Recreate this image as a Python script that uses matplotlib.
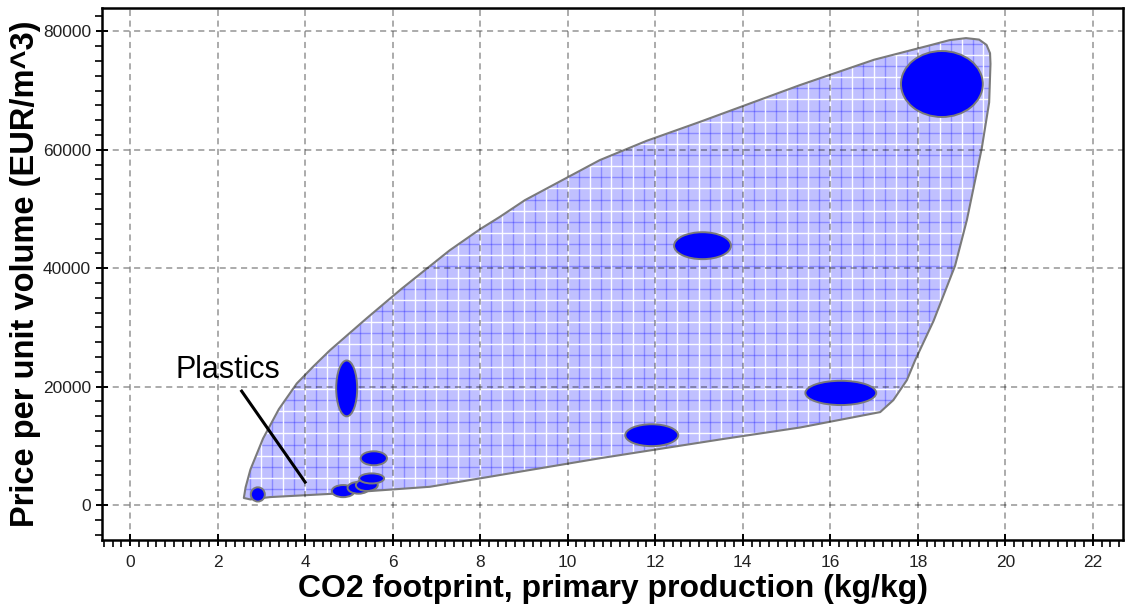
"""
Price per unit volume vs. CO2 footprint of primary production,
with the plastics family drawn as a hatched envelope around its members.
"""

import numpy as np
import matplotlib.pyplot as plt
from matplotlib.patches import Ellipse, Polygon
from matplotlib.collections import LineCollection
from matplotlib.ticker import MultipleLocator

plt.rcParams.update({
    'font.family': ['Liberation Sans', 'DejaVu Sans'],
    'font.size': 12.5,
    'xtick.labelsize': 12.5,
    'ytick.labelsize': 12.5,
})

# Material bubbles: CO2 footprint (kg/kg), price per volume (EUR/m^3), extents
bubble_x = [18.55, 13.08, 16.24, 11.92, 4.95, 5.57, 2.92, 4.87, 5.22, 5.41, 5.52]
bubble_y = [71100, 43800, 18940, 11800, 19700, 7900, 1800, 2360, 2920, 3380, 4500]
bubble_w = [1.87, 1.30, 1.62, 1.21, 0.48, 0.60, 0.32, 0.52, 0.50, 0.50, 0.57]
bubble_h = [11140, 4550, 4100, 3700, 9430, 2360, 2400, 2050, 2000, 2000, 1700]

# Family envelope outline (clockwise from the lower-left tip)
env_x = [2.60, 2.64, 2.75, 3.04, 3.40, 3.81, 4.20, 4.57, 5.40, 6.20, 7.30, 8.00,
         8.45, 9.02, 10.73, 11.80, 13.00, 15.30, 17.00, 18.26, 18.72, 19.10,
         19.40, 19.57, 19.65, 19.66, 19.63, 19.46, 19.12, 18.85, 18.36, 17.94,
         17.75, 17.44, 17.14, 15.31, 13.50, 10.73, 6.85, 4.60, 3.20, 2.75]
env_y = [1200, 3000, 6000, 11260, 16200, 20540, 23500, 26160, 31500, 36500, 43000, 46600,
         48670, 51480, 58240, 61500, 64650, 70900, 75200, 77600, 78500, 78850,
         78600, 77700, 76300, 74500, 68000, 60210, 48110, 40390, 31110, 24480,
         21100, 17720, 15700, 13100, 11100, 7900, 3090, 1900, 1350, 950]

label_text = 'Plastics'
label_pos = (2.24, 21400)
leader_x = [2.55, 4.00]
leader_y = [19240, 3880]

x_ticks = list(range(0, 23, 2))
y_ticks = [0, 20000, 40000, 60000, 80000]

FILL_COLOR = '#c0c0ff'
BUBBLE_COLOR = '#0000ff'
EDGE_GRAY = '#7a7a7a'


def hatch_lines(ax, clip_patch, xlim, ylim):
    """Criss-cross texture inside the envelope: white and blue lines alternating."""
    x0, x1 = xlim
    y0, y1 = ylim
    dy = 3760.0
    white, blue = [], []
    for x in np.arange(0, x1, 0.5):
        white.append([(x, y0), (x, y1)])
        blue.append([(x + 0.25, y0), (x + 0.25, y1)])
    for y in np.arange(40300 - 12 * dy, y1, dy):
        blue.append([(x0, y), (x1, y)])
        white.append([(x0, y + dy / 2), (x1, y + dy / 2)])
    for segs, color, alpha in [(blue, '#0000ff', 0.28), (white, 'white', 0.95)]:
        lc = LineCollection(segs, colors=color, alpha=alpha, linewidths=1.0, zorder=1.2)
        ax.add_collection(lc)
        lc.set_clip_path(clip_patch)


def main():
    fig = plt.figure(figsize=(11.25, 6.12), dpi=100)
    ax = fig.add_axes([0.0907, 0.1176, 0.9076, 0.869])

    xlim = (-0.64, 22.69)
    ylim = (-5900, 83900)
    ax.set_xlim(*xlim)
    ax.set_ylim(*ylim)

    outline = np.column_stack([env_x, env_y])
    envelope = Polygon(outline, closed=True, facecolor=FILL_COLOR, edgecolor='none',
                       zorder=1)
    ax.add_patch(envelope)
    hatch_lines(ax, envelope, xlim, ylim)
    ax.add_patch(Polygon(outline, closed=True, fill=False, edgecolor=EDGE_GRAY,
                         linewidth=1.5, joinstyle='round', zorder=1.3))

    for x, y, w, h in zip(bubble_x, bubble_y, bubble_w, bubble_h):
        ax.add_patch(Ellipse((x, y), w, h, facecolor=BUBBLE_COLOR,
                             edgecolor=EDGE_GRAY, linewidth=1.4, zorder=3))

    ax.text(*label_pos, label_text, fontsize=22, ha='center', va='baseline', zorder=4)
    ax.plot(leader_x, leader_y, color='black', linewidth=2.2, zorder=4)

    ax.set_xticks(x_ticks)
    ax.set_yticks(y_ticks)
    ax.xaxis.set_minor_locator(MultipleLocator(0.2))
    ax.yaxis.set_minor_locator(MultipleLocator(2500))
    ax.tick_params(which='major', direction='inout', length=9, width=1.4, colors='black',
                   labelcolor='#222222')
    ax.tick_params(which='minor', direction='out', length=5, width=1.2, colors='black')
    ax.tick_params(axis='x', which='major', pad=6)

    ax.set_axisbelow(False)
    ax.grid(True, which='major', color='black', alpha=0.42, linewidth=1.1,
            linestyle=(0, (4, 3)))
    for gl in ax.get_xgridlines() + ax.get_ygridlines():
        gl.set_zorder(2)

    for side in ['left', 'bottom', 'top', 'right']:
        ax.spines[side].set_linewidth(1.8)
        ax.spines[side].set_zorder(5)

    ax.set_xlabel('CO2 footprint, primary production (kg/kg)', fontsize=23,
                  fontweight='bold', labelpad=3)
    ax.set_ylabel('Price per unit volume (EUR/m^3)', fontsize=23.5,
                  fontweight='bold', labelpad=1)

    fig.savefig('out.png', dpi=100)
    plt.close(fig)


if __name__ == '__main__':
    main()
